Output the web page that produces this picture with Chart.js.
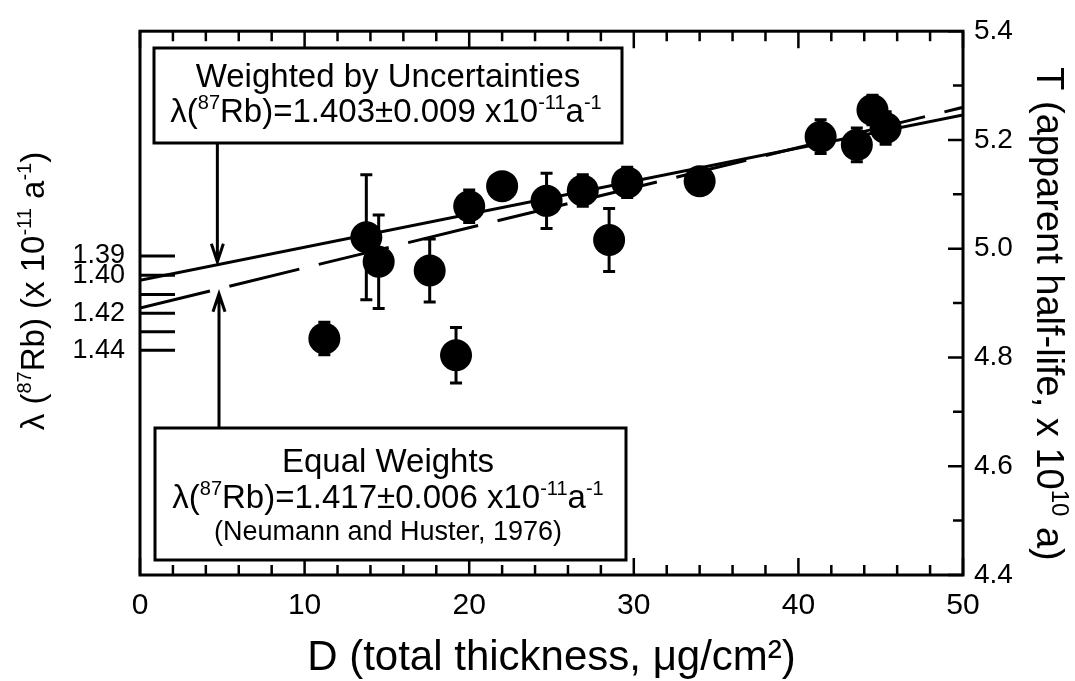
<!DOCTYPE html>
<html>
<head>
<meta charset="utf-8">
<script src="https://cdn.jsdelivr.net/npm/chart.js@4.4.1/dist/chart.umd.min.js"></script>
<style>
  html, body { margin: 0; padding: 0; background: #ffffff; }
  #wrap { width: 1075px; height: 681px; }
</style>
</head>
<body>
<div id="wrap"><canvas id="chart" width="1075" height="681"></canvas></div>
<script>
// ---------------- data ----------------
const thickness   = [11.2, 13.75, 14.5, 17.6, 19.2, 20.0, 22.0, 24.7, 26.9, 28.5, 29.6, 34.0, 41.35, 43.55, 44.5, 45.3];
const halfLife    = [4.835, 5.021, 4.976, 4.960, 4.804, 5.078, 5.115, 5.088, 5.107, 5.016, 5.122, 5.124, 5.206, 5.191, 5.255, 5.222];
const halfLifeErr = [0.030, 0.115, 0.086, 0.058, 0.051, 0.030, 0.000, 0.051, 0.029, 0.058, 0.028, 0.000, 0.031, 0.031, 0.027, 0.030];

const fitThickness = [0, 50];
const weightedFitT = [4.942, 5.246];   // weighted by uncertainties
const equalFitT    = [4.891, 5.260];   // equal weights

const xTickValues       = [0, 10, 20, 30, 40, 50];
const tTickValues       = [4.4, 4.6, 4.8, 5.0, 5.2, 5.4];
const lambdaTickValues  = [1.39, 1.40, 1.41, 1.42, 1.43, 1.44];
const lambdaLabelValues = [1.39, 1.40, 1.42, 1.44];

const xTitle = 'D (total thickness, μg/cm²)';
// rich-text titles: plain parts and superscript parts
const tTitleParts      = [{t: 'T (apparent half-life, x 10'}, {t: '10', sup: true}, {t: ' a)'}];
const lambdaTitleParts = [{t: 'λ ('}, {t: '87', sup: true}, {t: 'Rb) (x 10'}, {t: '-11', sup: true}, {t: ' a'}, {t: '-1', sup: true}, {t: ')'}];
const weightedParts    = [{t: 'λ('}, {t: '87', sup: true}, {t: 'Rb)=1.403±0.009 x10'}, {t: '-11', sup: true}, {t: 'a'}, {t: '-1', sup: true}];
const equalParts       = [{t: 'λ('}, {t: '87', sup: true}, {t: 'Rb)=1.417±0.006 x10'}, {t: '-11', sup: true}, {t: 'a'}, {t: '-1', sup: true}];

// ---------------- helpers ----------------
const FAMILY = "'Liberation Sans', Arial, Helvetica, sans-serif";
const lambdaToT = l => 10 * Math.LN2 / l;    // T (x1e10 a) from lambda (x1e-11 /a)
const tToLambda = t => 10 * Math.LN2 / t;

Chart.defaults.font.family = FAMILY;
Chart.defaults.color = '#000';

function drawRich(ctx, parts, cx, baseline, size) {
  const supSize = Math.round(size * 0.62);
  let total = 0;
  const w = parts.map(p => {
    ctx.font = (p.sup ? supSize : size) + 'px ' + FAMILY;
    const m = ctx.measureText(p.t).width;
    total += m;
    return m;
  });
  let x = cx - total / 2;
  ctx.textAlign = 'left';
  ctx.textBaseline = 'alphabetic';
  parts.forEach((p, i) => {
    ctx.font = (p.sup ? supSize : size) + 'px ' + FAMILY;
    ctx.fillText(p.t, x, p.sup ? baseline - size * 0.40 : baseline);
    x += w[i];
  });
}

// error bars under the markers
const errorBarPlugin = {
  id: 'errorBars',
  beforeDatasetsDraw(chart) {
    const {ctx, scales: {x, y}} = chart;
    ctx.save();
    ctx.strokeStyle = '#000';
    ctx.lineWidth = 3;
    thickness.forEach((d, i) => {
      const e = halfLifeErr[i];
      if (!e) return;
      const px = x.getPixelForValue(d);
      const y1 = y.getPixelForValue(halfLife[i] + e);
      const y2 = y.getPixelForValue(halfLife[i] - e);
      ctx.beginPath();
      ctx.moveTo(px, y1); ctx.lineTo(px, y2);
      ctx.moveTo(px - 6, y1); ctx.lineTo(px + 6, y1);
      ctx.moveTo(px - 6, y2); ctx.lineTo(px + 6, y2);
      ctx.stroke();
    });
    ctx.restore();
  }
};

// frame, inward ticks, rotated axis titles, annotation boxes and arrows
const framePlugin = {
  id: 'frame',
  afterDraw(chart) {
    const {ctx, scales: {x, y}} = chart;
    const L = x.getPixelForValue(0), R = x.getPixelForValue(50);
    const T = y.getPixelForValue(5.4), B = y.getPixelForValue(4.4);
    ctx.save();
    ctx.strokeStyle = '#000';
    ctx.fillStyle = '#000';
    ctx.lineCap = 'butt';

    // inward ticks on top and bottom
    ctx.lineWidth = 2.5;
    ctx.beginPath();
    for (let d = 0; d <= 50; d += 2) {
      const px = x.getPixelForValue(d);
      const len = (d % 10 === 0) ? 17 : 10;
      ctx.moveTo(px, T); ctx.lineTo(px, T + len);
      ctx.moveTo(px, B); ctx.lineTo(px, B - len);
    }
    // inward ticks on the right (T axis)
    for (let k = 44; k <= 54; k++) {
      const py = y.getPixelForValue(k / 10);
      const len = (k % 2 === 0) ? 15 : 10;
      ctx.moveTo(R, py); ctx.lineTo(R - len, py);
    }
    ctx.stroke();

    // lambda ticks on the left
    ctx.lineWidth = 3;
    ctx.beginPath();
    lambdaTickValues.forEach(l => {
      const py = y.getPixelForValue(lambdaToT(l));
      ctx.moveTo(L, py); ctx.lineTo(L + 35, py);
    });
    ctx.stroke();

    // frame
    ctx.lineWidth = 3;
    ctx.strokeRect(L, T, R - L, B - T);

    // rotated axis titles
    ctx.fillStyle = '#000';
    ctx.save();
    ctx.translate(44, 291);
    ctx.rotate(-Math.PI / 2);
    drawRich(ctx, lambdaTitleParts, 0, 0, 33);
    ctx.restore();

    ctx.save();
    ctx.translate(1037, 314);
    ctx.rotate(Math.PI / 2);
    drawRich(ctx, tTitleParts, 0, 0, 38);
    ctx.restore();

    // annotation boxes
    function box(x0, y0, x1, y1) {
      ctx.fillStyle = '#fff';
      ctx.fillRect(x0, y0, x1 - x0, y1 - y0);
      ctx.lineWidth = 3;
      ctx.strokeStyle = '#000';
      ctx.strokeRect(x0, y0, x1 - x0, y1 - y0);
      ctx.fillStyle = '#000';
    }
    box(154, 48, 622, 143);
    ctx.font = '33px ' + FAMILY;
    ctx.textAlign = 'center';
    ctx.textBaseline = 'alphabetic';
    ctx.fillText('Weighted by Uncertainties', 388, 87);
    drawRich(ctx, weightedParts, 386, 122, 33);

    box(155, 428, 626, 560);
    ctx.font = '33px ' + FAMILY;
    ctx.textAlign = 'center';
    ctx.fillText('Equal Weights', 388, 472);
    drawRich(ctx, equalParts, 388, 508, 33);
    ctx.font = '27px ' + FAMILY;
    ctx.textAlign = 'center';
    ctx.fillText('(Neumann and Huster, 1976)', 388, 540);

    // arrows
    function arrow(ax, fromY, tipY) {
      const dir = tipY > fromY ? 1 : -1;
      ctx.lineWidth = 3;
      ctx.beginPath();
      ctx.moveTo(ax, fromY); ctx.lineTo(ax, tipY);
      ctx.moveTo(ax - 6, tipY - dir * 18); ctx.lineTo(ax, tipY); ctx.lineTo(ax + 6, tipY - dir * 18);
      ctx.stroke();
    }
    const dTop = 4.7, dBot = 4.8;
    const wAt = d => weightedFitT[0] + (weightedFitT[1] - weightedFitT[0]) * d / 50;
    const eAt = d => equalFitT[0] + (equalFitT[1] - equalFitT[0]) * d / 50;
    arrow(x.getPixelForValue(dTop), 143, y.getPixelForValue(wAt(dTop)) - 3);
    arrow(x.getPixelForValue(dBot), 428, y.getPixelForValue(eAt(dBot)) + 5);

    ctx.restore();
  }
};

const points = thickness.map((d, i) => ({x: d, y: halfLife[i]}));
const weightedLine = fitThickness.map((d, i) => ({x: d, y: weightedFitT[i]}));
const equalLine = fitThickness.map((d, i) => ({x: d, y: equalFitT[i]}));

new Chart(document.getElementById('chart'), {
  type: 'scatter',
  data: {
    datasets: [
      {
        label: 'Measurements', data: points, xAxisID: 'x', yAxisID: 'y',
        pointRadius: 16, pointHoverRadius: 16, backgroundColor: '#000', borderWidth: 0, order: 0
      },
      {
        label: 'Weighted by uncertainties', data: weightedLine, xAxisID: 'x', yAxisID: 'y',
        showLine: true, pointRadius: 0, borderColor: '#000', borderWidth: 3, order: 1
      },
      {
        label: 'Equal weights', data: equalLine, xAxisID: 'x', yAxisID: 'y',
        showLine: true, pointRadius: 0, borderColor: '#000', borderWidth: 3, borderDash: [72, 20], order: 2
      }
    ]
  },
  options: {
    responsive: false,
    animation: false,
    events: [],
    layout: {padding: {top: 25, left: 0, right: 0, bottom: 0}},
    plugins: {legend: {display: false}, tooltip: {enabled: false}},
    scales: {
      x: {
        type: 'linear', position: 'bottom', min: 0, max: 50,
        afterBuildTicks: s => { s.ticks = xTickValues.map(v => ({value: v})); },
        ticks: {font: {size: 30}, padding: 13, maxRotation: 0, autoSkip: false, color: '#000'},
        grid: {display: false, drawTicks: false},
        border: {display: false},
        title: {display: true, text: xTitle, font: {size: 42, lineHeight: 1.0}, padding: {top: 0, bottom: 2}, color: '#000'},
        afterFit: s => { s.height = 106; }
      },
      y: {
        type: 'linear', position: 'right', min: 4.4, max: 5.4,
        afterBuildTicks: s => { s.ticks = tTickValues.map(v => ({value: v})); },
        ticks: {font: {size: 28}, padding: 11, autoSkip: false, color: '#000', callback: v => v.toFixed(1)},
        grid: {display: false, drawTicks: false},
        border: {display: false},
        title: {display: false},
        afterFit: s => { s.width = 112; }
      },
      yLambda: {
        type: 'linear', position: 'left', min: 4.4, max: 5.4,
        afterBuildTicks: s => { s.ticks = lambdaLabelValues.map(l => ({value: lambdaToT(l)})); },
        ticks: {font: {size: 27}, padding: 15, autoSkip: false, color: '#000', callback: v => tToLambda(v).toFixed(2)},
        grid: {display: false, drawTicks: false},
        border: {display: false},
        title: {display: false},
        afterFit: s => { s.width = 140; }
      }
    }
  },
  plugins: [errorBarPlugin, framePlugin]
});
</script>
</body>
</html>
